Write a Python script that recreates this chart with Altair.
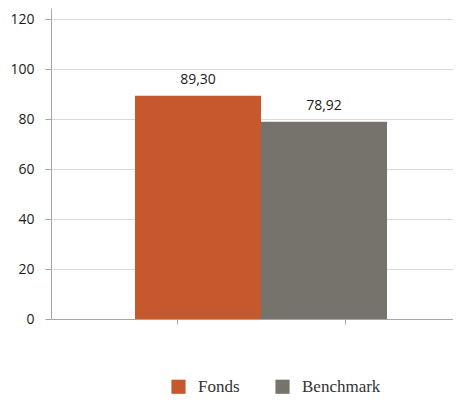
import altair as alt
import pandas as pd

series = ["Fonds", "Benchmark"]
values = [89.30, 78.92]
category_index = [0, 1]
colors = ["#C5582C", "#76736D"]
y_ticks = [0, 20, 40, 60, 80, 100, 120]

df = pd.DataFrame({"series": series, "value": values, "pos": category_index})

base = alt.Chart(df)

yenc = alt.Y(
    "value:Q",
    scale=alt.Scale(domain=[0, 124.4], nice=False, zero=True),
    axis=alt.Axis(
        values=y_ticks, title=None, grid=True, gridColor="#D9D9D9",
        domainColor="#A6A6A6", tickColor="#A6A6A6", tickSize=6,
        labelPadding=11, labelFont="Open Sans", labelFontSize=14,
        labelColor="#1A1A1A",
    ),
)

xband = alt.X(
    "series:N", sort=series,
    scale=alt.Scale(type="band", paddingInner=0, paddingOuter=0.595, align=0.56),
    axis=None,
)

bars = base.mark_bar().encode(
    x=xband,
    y=yenc,
    color=alt.Color(
        "series:N", sort=series,
        scale=alt.Scale(domain=series, range=colors),
        legend=alt.Legend(
            title=None, orient="none", legendX=119, legendY=370,
            direction="horizontal", symbolType="square", symbolSize=200,
            symbolStrokeWidth=0, labelFont="Liberation Serif",
            labelFontSize=17, labelColor="#333333", labelOffset=11,
            columnPadding=34, padding=0,
        ),
    ),
)

labels = base.mark_text(
    baseline="bottom", dy=-9, font="Open Sans", fontSize=14, color="#1A1A1A"
).transform_calculate(
    label="replace(format(datum.value, '.2f'), '.', ',')"
).encode(
    x=xband,
    y=alt.Y("value:Q"),
    text="label:N",
)

ticks = base.mark_point(opacity=0).encode(
    x=alt.X(
        "pos:Q",
        scale=alt.Scale(domain=[-0.75, 1.643], nice=False, zero=False),
        axis=alt.Axis(
            values=category_index, labels=False, title=None, grid=False,
            domainColor="#A6A6A6", tickColor="#A6A6A6", tickSize=5,
        ),
    ),
    y=alt.Y("value:Q"),
)

chart = (
    alt.layer(bars, labels, ticks)
    .resolve_scale(x="independent")
    .properties(
        width=402, height=311,
        autosize=alt.AutoSizeParams(type="none"),
        padding={"left": 43, "top": 0, "right": 0, "bottom": 76},
    )
    .configure_view(strokeWidth=0)
)

chart.save("out.html", embed_options={"renderer": "svg", "actions": False})
